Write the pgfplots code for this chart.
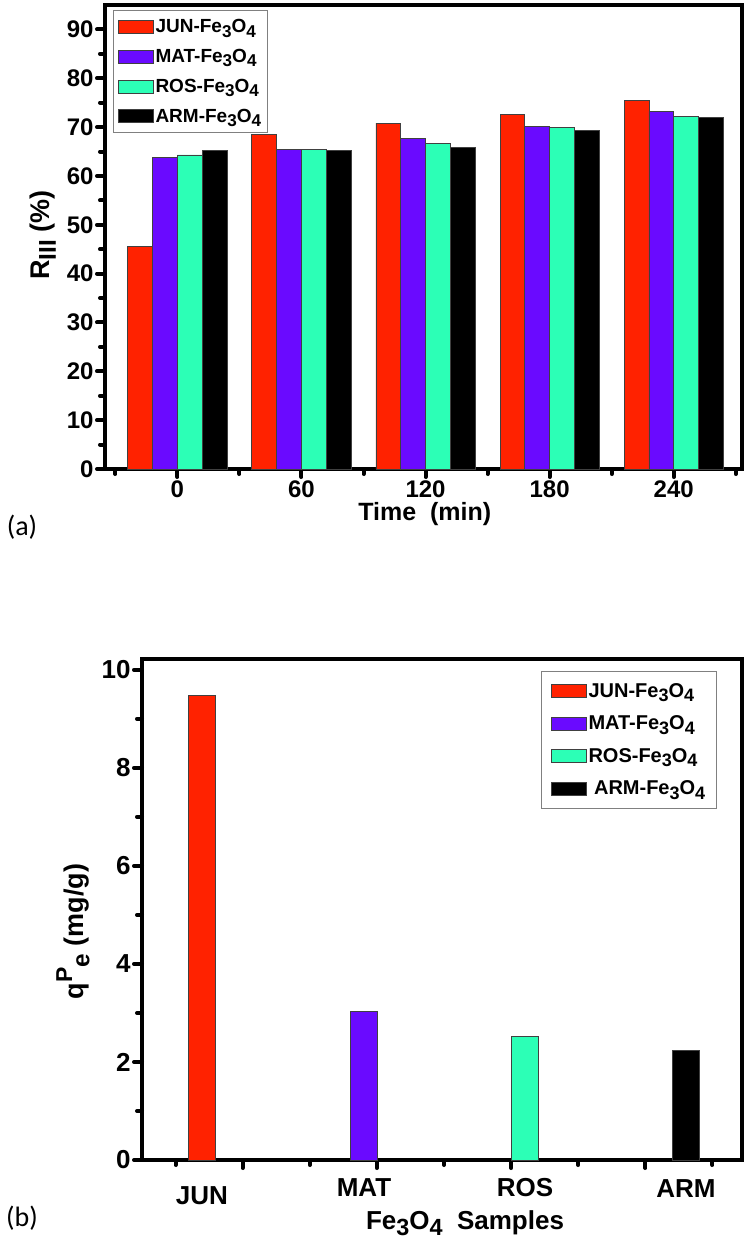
\documentclass[border=0pt]{standalone}
\usepackage{pgfplots}
\pgfplotsset{compat=1.18}
\usepackage{fontspec}
\setmainfont{Liberation Sans}
\newfontfamily\carlito{Carlito}
\definecolor{cjun}{HTML}{FF2200}
\definecolor{cmat}{HTML}{6A0AFF}
\definecolor{cros}{HTML}{2CFFB6}
\definecolor{carm}{HTML}{000000}
\newcommand\sub[1]{\raisebox{-0.42ex}{\scalebox{0.9}{#1}}}
\newcommand\sups[1]{\raisebox{0.8ex}{\scalebox{0.85}{#1}}}
\newcommand\fs[1]{\fontsize{#1}{#1}\selectfont}
\pgfplotsset{
  orig/.style={
    scale only axis,
    axis line style={line width=4.5pt, line cap=rect},
    tick style={line width=4pt, line cap=round, black},
    major tick length=8pt,
    minor tick length=5pt,
    tick align=outside,
    xtick pos=left, ytick pos=left,
    /pgf/number format/assume math mode=true,
    legend cell align=left,
  },
  swatch/.style={legend image code/.code={\draw[##1, line width=1pt] (0pt,-6.5pt) rectangle (35pt,6.5pt);}},
}
\begin{document}
\begin{tikzpicture}[x=1pt,y=1pt]
\path[use as bounding box] (0,0) rectangle (749,-1241);
% ---------------- (a) ----------------
\begin{axis}[orig,
  at={(105pt,-469pt)}, anchor=south west,
  width=637pt, height=464pt,
  xmin=-35, xmax=273, ymin=0, ymax=95,
  xtick={0,60,...,240}, minor xtick={-30,30,90,150,210,270},
  ytick={0,10,...,90}, minor ytick={5,15,...,85},
  tick label style={font=\bfseries\fs{24}},
  every axis y label/.style={at={(axis description cs:-0.097,0.504)}, rotate=90, anchor=center},
  every axis x label/.style={at={(axis description cs:0.502,-0.097)}, anchor=center},
  ylabel={\bfseries\fs{27}R\sub{III} (\%)},
  xlabel={\bfseries\fs{25}Time\ \ (min)},
  legend style={at={(rel axis cs:0.0126,0.989)}, anchor=north west, draw=gray, line width=1pt,
    fill=white, font=\bfseries\fs{19}, row sep=11pt, inner xsep=4pt, inner ysep=7pt,
    /tikz/every even column/.append style={column sep=5pt}},
]
\addplot[ybar, bar width=12, bar shift=-18, fill=cjun, draw=black!75, line width=0.8pt, swatch]
  coordinates {(0,45.6) (60,68.5) (120,70.8) (180,72.6) (240,75.4)};
\addlegendentry{JUN-Fe\sub{3}O\sub{4}}
\addplot[ybar, bar width=12, bar shift=-6, fill=cmat, draw=black!75, line width=0.8pt, swatch]
  coordinates {(0,63.8) (60,65.4) (120,67.6) (180,70.1) (240,73.2)};
\addlegendentry{MAT-Fe\sub{3}O\sub{4}}
\addplot[ybar, bar width=12, bar shift=6, fill=cros, draw=black!75, line width=0.8pt, swatch]
  coordinates {(0,64.3) (60,65.4) (120,66.6) (180,69.9) (240,72.2)};
\addlegendentry{ROS-Fe\sub{3}O\sub{4}}
\addplot[ybar, bar width=12, bar shift=18, fill=carm, draw=black!75, line width=0.8pt, swatch]
  coordinates {(0,65.2) (60,65.3) (120,65.9) (180,69.3) (240,72.0)};
\addlegendentry{ARM-Fe\sub{3}O\sub{4}}
\end{axis}
\node[font=\carlito\fs{28}] at (22,-527) {(a)};
% ---------------- (b) ----------------
\begin{axis}[orig,
  at={(142pt,-1160pt)}, anchor=south west,
  width=600pt, height=501pt,
  xmin=0.25, xmax=4.72, ymin=0, ymax=10.22,
  xtick={1,2,3,4}, xticklabels={}, minor xtick={0.5,1.5,...,4.5},
  ytick={0,2,...,10}, minor ytick={1,3,...,9},
  tick label style={font=\bfseries\fs{26}},
  every axis y label/.style={at={(axis description cs:-0.115,0.456)}, rotate=90, anchor=center},
  ylabel={\bfseries\fs{27}q\sups{P}\sub{e} (mg/g)},
  legend style={at={(rel axis cs:0.665,0.976)}, anchor=north west, draw=gray, line width=1pt,
    fill=white, font=\bfseries\fs{20}, row sep=13pt, inner xsep=9pt, inner ysep=10pt,
    /tikz/every even column/.append style={column sep=9pt}},
]
\addplot[ybar, bar width=0.2, bar shift=0, fill=cjun, draw=black!75, line width=0.8pt, swatch]
  coordinates {(0.698,9.47)};
\addlegendentry{JUN-Fe\sub{3}O\sub{4}}
\addplot[ybar, bar width=0.2, bar shift=0, fill=cmat, draw=black!75, line width=0.8pt, swatch]
  coordinates {(1.9,3.03)};
\addlegendentry{MAT-Fe\sub{3}O\sub{4}}
\addplot[ybar, bar width=0.2, bar shift=0, fill=cros, draw=black!75, line width=0.8pt, swatch]
  coordinates {(3.1,2.52)};
\addlegendentry{ROS-Fe\sub{3}O\sub{4}}
\addplot[ybar, bar width=0.2, bar shift=0, fill=carm, draw=black!75, line width=0.8pt, swatch]
  coordinates {(4.3,2.24)};
\addlegendentry{\ ARM-Fe\sub{3}O\sub{4}}
\end{axis}
\begin{scope}[every node/.style={font=\bfseries\fs{26}}]
\node at (202,-1196) {JUN};
\node at (364,-1188) {MAT};
\node at (525,-1188) {ROS};
\node at (686,-1189) {ARM};
\node at (465,-1223) {Fe\sub{3}O\sub{4}\ \ Samples};
\end{scope}
\node[font=\carlito\fs{28}] at (22,-1218) {(b)};
\end{tikzpicture}
\end{document}
